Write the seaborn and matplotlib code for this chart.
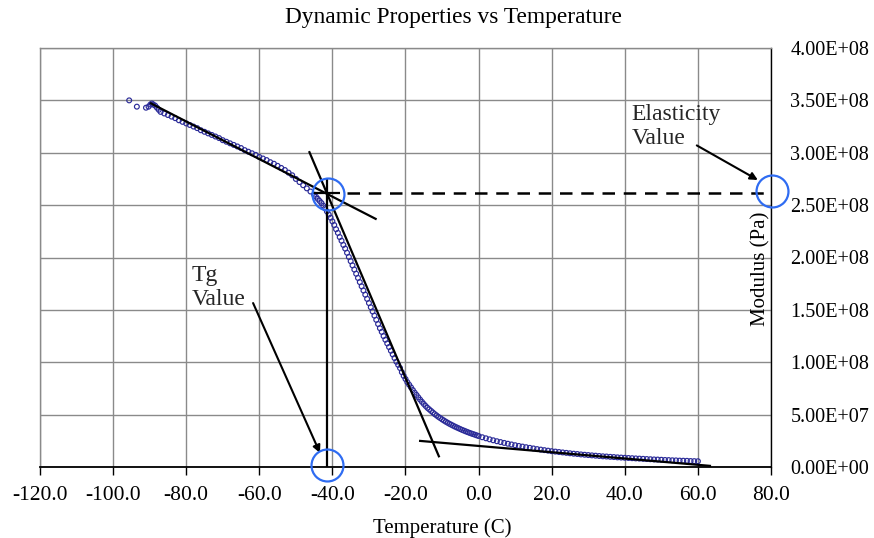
import numpy as np
import pandas as pd
import matplotlib
matplotlib.use("Agg")
import matplotlib.pyplot as plt
import seaborn as sns

# ---------------- data (temperature in C, modulus in 1e8 Pa) ----------------
temp_glassy = [-95.6, -93.5, -91.0, -90.3, -89.8, -89.4, -89.0, -88.5, -88.0, -87.5, -87.0,
               -86, -85, -84, -83, -82, -81, -80, -79, -78, -77, -76, -75, -74, -73, -72,
               -71, -70, -69, -68, -67, -66, -65, -64, -63, -62, -61, -60, -59, -58, -57,
               -56, -55, -54, -53, -52, -51, -50, -49, -48, -47, -46, -45]
mod_glassy = [3.50, 3.44, 3.43, 3.44, 3.46, 3.47, 3.46, 3.45, 3.43, 3.41, 3.39,
              3.375, 3.36, 3.345, 3.33, 3.31, 3.295, 3.28, 3.265, 3.25, 3.235, 3.215, 3.20, 3.185, 3.17, 3.155,
              3.14, 3.12, 3.105, 3.09, 3.075, 3.06, 3.045, 3.025, 3.01, 2.995, 2.98, 2.96, 2.945, 2.93, 2.91,
              2.895, 2.875, 2.855, 2.835, 2.81, 2.785, 2.75, 2.72, 2.69, 2.66, 2.63, 2.60]

temp_transition = [-44.5, -44.0, -43.5, -43.0, -42.5, -42.0, -41.5, -41.0, -40.5, -40.0,
                   -39.5, -39.0, -38.5, -38.0, -37.5, -37.0, -36.5, -36.0, -35.5, -35.0,
                   -34.5, -34.0, -33.5, -33.0, -32.5, -32.0, -31.5, -31.0, -30.5, -30.0,
                   -29.5, -29.0, -28.5, -28.0, -27.5, -27.0, -26.5, -26.0, -25.5, -25.0,
                   -24.5, -24.0, -23.5, -23.0, -22.5, -22.0, -21.5, -21.0, -20.5, -20.0,
                   -19.5, -19.0, -18.5, -18.0, -17.5, -17.0, -16.5, -16.0, -15.5, -15.0,
                   -14.5, -14.0, -13.5, -13.0, -12.5, -12.0, -11.5, -11.0, -10.5, -10.0]
mod_transition = [2.58, 2.56, 2.54, 2.52, 2.495, 2.47, 2.44, 2.41, 2.38, 2.345,
                  2.31, 2.27, 2.235, 2.195, 2.16, 2.12, 2.085, 2.045, 2.005, 1.965,
                  1.925, 1.885, 1.845, 1.805, 1.765, 1.725, 1.685, 1.645, 1.605, 1.565,
                  1.525, 1.485, 1.445, 1.405, 1.365, 1.325, 1.29, 1.25, 1.215, 1.18,
                  1.145, 1.11, 1.075, 1.04, 1.005, 0.975, 0.945, 0.905, 0.87, 0.84,
                  0.81, 0.785, 0.76, 0.735, 0.71, 0.688, 0.665, 0.643, 0.622, 0.602,
                  0.583, 0.565, 0.55, 0.535, 0.52, 0.505, 0.492, 0.479, 0.467, 0.455]

temp_rubbery = [-9.5, -9.0, -8.5, -8.0, -7.5, -7.0, -6.5, -6.0, -5.5, -5.0,
                -4.5, -4.0, -3.5, -3.0, -2.5, -2.0, -1.5, -1.0, -0.5, 0.0,
                1, 2, 3, 4, 5, 6, 7, 8, 9, 10,
                11, 12, 13, 14, 15, 16, 17, 18, 19, 20,
                21, 22, 23, 24, 25, 26, 27, 28, 29, 30,
                31, 32, 33, 34, 35, 36, 37, 38, 39, 40,
                41, 42, 43, 44, 45, 46, 47, 48, 49, 50,
                51, 52, 53, 54, 55, 56, 57, 58, 59, 60]
mod_rubbery = [0.444, 0.433, 0.423, 0.413, 0.404, 0.395, 0.386, 0.378, 0.37, 0.362,
               0.354, 0.347, 0.34, 0.333, 0.326, 0.32, 0.314, 0.308, 0.302, 0.296,
               0.284, 0.274, 0.264, 0.255, 0.246, 0.238, 0.23, 0.222, 0.215, 0.208,
               0.201, 0.195, 0.189, 0.183, 0.177, 0.171, 0.166, 0.161, 0.156, 0.151,
               0.147, 0.143, 0.139, 0.135, 0.131, 0.127, 0.124, 0.12, 0.117, 0.114,
               0.111, 0.108, 0.105, 0.102, 0.1, 0.097, 0.095, 0.092, 0.09, 0.088,
               0.086, 0.084, 0.082, 0.08, 0.078, 0.076, 0.074, 0.072, 0.071, 0.069,
               0.067, 0.066, 0.064, 0.063, 0.061, 0.06, 0.059, 0.057, 0.056, 0.055]

# tangent construction lines (temperature, modulus in 1e8 Pa)
tan_glassy_x = [-89.9, -27.9]
tan_glassy_y = [3.476, 2.364]
tan_trans_x = [-46.4, -10.75]
tan_trans_y = [3.015, 0.0925]
tan_rubber_x = [-16.3, 63.6]
tan_rubber_y = [0.25, 0.01]

tg_value = -41.6
elasticity_value = 2.62

x_ticks = [-120, -100, -80, -60, -40, -20, 0, 20, 40, 60, 80]
y_ticks = [0, 0.5e8, 1.0e8, 1.5e8, 2.0e8, 2.5e8, 3.0e8, 3.5e8, 4.0e8]

# ---------------- plotting ----------------
sns.set_theme(style="white")
plt.rcParams["font.family"] = ["Liberation Serif", "DejaVu Serif"]

W, H = 874, 538
fig = plt.figure(figsize=(W / 100, H / 100), dpi=100)
ax = fig.add_axes([40 / W, 71 / H, 731 / W, 419 / H])

df = pd.DataFrame({
    "Temperature": temp_glassy + temp_transition + temp_rubbery,
    "Modulus": np.array(mod_glassy + mod_transition + mod_rubbery) * 1e8,
})
sns.scatterplot(data=df, x="Temperature", y="Modulus", ax=ax, marker="o",
                facecolors="none", edgecolor="#2b2b98", s=12, linewidth=0.85,
                zorder=3, legend=False)

line_kw = dict(color="black", lw=1.6, zorder=4, solid_capstyle="butt")
ax.plot(tan_glassy_x, np.array(tan_glassy_y) * 1e8, **line_kw)
ax.plot(tan_trans_x, np.array(tan_trans_y) * 1e8, **line_kw)
ax.plot(tan_rubber_x, np.array(tan_rubber_y) * 1e8, **line_kw)
# Tg vertical line and cross
ax.plot([tg_value, tg_value], [0, 2.76e8], **line_kw)
ax.plot([-45.2, -37.9], [elasticity_value * 1e8] * 2, **line_kw)
# dashed elasticity line
ax.plot([-36.0, 80], [elasticity_value * 1e8] * 2, color="black", lw=1.8,
        ls=(0, (5, 3.5)), zorder=4, clip_on=False)

# blue highlight circles
circ_kw = dict(marker="o", ms=23, mfc="none", mec="#2f6cf2", mew=1.6,
               ls="none", zorder=5, clip_on=False)
ax.plot([tg_value + 0.2], [0.02e8], **circ_kw)
ax.plot([-41.2], [2.61e8], **circ_kw)
ax.plot([80.2], [2.633e8], **circ_kw)

# annotations
arrow_kw = dict(arrowstyle="-|>", color="black", lw=1.5, mutation_scale=11,
                shrinkA=0, shrinkB=0)
ax.annotate("", xy=(-43.4, 0.134e8), xytext=(-61.7, 1.565e8), arrowprops=arrow_kw)
ax.annotate("", xy=(76.4, 2.74e8), xytext=(59.7, 3.07e8), arrowprops=arrow_kw,
            annotation_clip=False)
ax.text(-78.6, 1.93e8, "Tg\nValue", ha="left", va="top", fontsize=17,
        linespacing=1.18, zorder=6)
ax.text(41.8, 3.47e8, "Elasticity\nValue", ha="left", va="top", fontsize=17,
        linespacing=1.22, zorder=6)

# axes styling
ax.set_xlim(-120, 80)
ax.set_ylim(0, 4e8)
ax.set_xticks(x_ticks)
ax.set_xticklabels([f"{v:.1f}" for v in x_ticks])
ax.set_yticks(y_ticks)
ax.set_yticklabels([f"{v:.2E}" for v in y_ticks])
ax.yaxis.tick_right()
ax.grid(True, color="#8a8a8a", lw=1.0, zorder=0)
ax.set_axisbelow(True)

for side in ["left", "top"]:
    ax.spines[side].set_color("#8a8a8a")
    ax.spines[side].set_linewidth(1.0)
ax.spines["right"].set_color("black")
ax.spines["right"].set_linewidth(1.0)
ax.spines["bottom"].set_color("black")
ax.spines["bottom"].set_linewidth(1.3)

ax.tick_params(axis="x", direction="out", length=6, width=1, color="black",
               labelsize=15.5, pad=8, bottom=True)
ax.tick_params(axis="y", length=0, labelsize=14.5, pad=14, right=True, left=False)
for lab in ax.get_xticklabels() + ax.get_yticklabels():
    lab.set_color("black")

ax.set_xlabel("Temperature (C)", fontsize=15, color="black")
ax.xaxis.set_label_coords((442 - 40) / 731, (467 - 528) / 419)
ax.xaxis.label.set_va("center")

ax.set_ylabel("Modulus (Pa)", fontsize=15, color="black")
ax.yaxis.set_label_position("right")
ax.yaxis.set_label_coords((761 - 40) / 731, (467 - 269) / 419)
ax.yaxis.label.set_va("center")
ax.yaxis.label.set_ha("center")
ax.yaxis.label.set_rotation(90)

fig.text(453.5 / W, 1 - 18 / H, "Dynamic Properties vs Temperature",
         ha="center", va="center", fontsize=16.8, color="black")

fig.savefig("out.png", dpi=100, facecolor="white")
